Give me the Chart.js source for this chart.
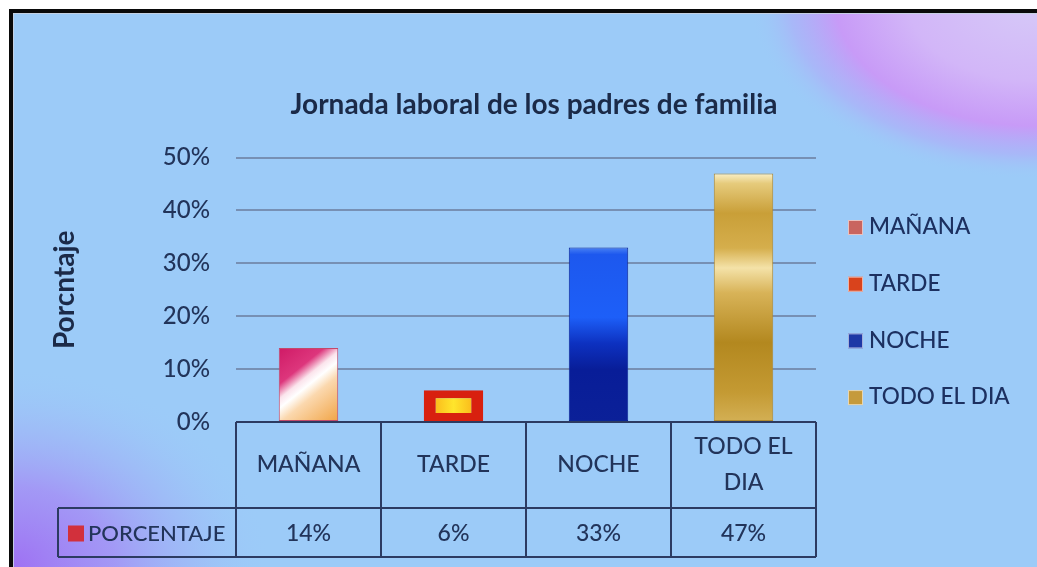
<!DOCTYPE html>
<html>
<head>
<meta charset="utf-8">
<title>Jornada laboral de los padres de familia</title>
<script src="https://cdn.jsdelivr.net/npm/chart.js@4.4.0/dist/chart.umd.min.js"></script>
<style>
  html, body { margin: 0; padding: 0; background: #fff; }
  #wrap { width: 1037px; height: 567px; }
</style>
</head>
<body>
<div id="wrap"><canvas id="chart"></canvas></div>
<script>
// data
const categories = ['MAÑANA', 'TARDE', 'NOCHE', 'TODO EL DIA'];
const axisLabels = ['MAÑANA', 'TARDE', 'NOCHE', ['TODO EL', 'DIA']];
const porcentaje = [14, 6, 33, 47];
const yTicks = [0, 10, 20, 30, 40, 50];
const seriesName = 'PORCENTAJE';

// styles
const FONT = 'Lato, "Open Sans", sans-serif';
const textColor = '#22345a';
const legendColors = ['#c9655f', '#d9431c', '#1d38a6', '#c59a3c'];
const seriesColor = '#d2303c';

function makeGradient(c, i, x0, x1, y0, y1) {
  let g;
  if (i === 0) {
    g = c.createLinearGradient(x0, y0, x1, y1);
    g.addColorStop(0, '#cf1a66');
    g.addColorStop(0.3, '#dd367c');
    g.addColorStop(0.42, '#fbe4ec');
    g.addColorStop(0.5, '#ffffff');
    g.addColorStop(0.62, '#fbd8ae');
    g.addColorStop(1, '#f1a343');
  } else if (i === 1) {
    g = c.createLinearGradient(x0, 0, x1, 0);
    g.addColorStop(0, '#f7a312');
    g.addColorStop(0.5, '#ffe52c');
    g.addColorStop(1, '#f7a312');
  } else if (i === 2) {
    g = c.createLinearGradient(0, y0, 0, y1);
    g.addColorStop(0, '#4a82f4');
    g.addColorStop(0.04, '#1d58ee');
    g.addColorStop(0.4, '#1d5ff8');
    g.addColorStop(0.55, '#0d31c0');
    g.addColorStop(0.7, '#081d98');
    g.addColorStop(1, '#0b2098');
  } else {
    g = c.createLinearGradient(0, y0, 0, y1);
    g.addColorStop(0, '#faf0c8');
    g.addColorStop(0.04, '#e6cb7c');
    g.addColorStop(0.16, '#c99f38');
    g.addColorStop(0.3, '#d5ae4c');
    g.addColorStop(0.38, '#f4e2a8');
    g.addColorStop(0.48, '#d8b358');
    g.addColorStop(0.68, '#b3881f');
    g.addColorStop(0.88, '#c49a33');
    g.addColorStop(1, '#d3b055');
  }
  return g;
}

function barFill(ctx) {
  const chart = ctx.chart;
  const i = ctx.dataIndex;
  if (!chart.chartArea || i === undefined) return legendColors[i] || '#888';
  const xs = chart.scales.x, ys = chart.scales.y;
  const cx = xs.getPixelForValue(i);
  const half = (xs.width / categories.length) * 0.41 / 2;
  const top = ys.getPixelForValue(porcentaje[i]);
  const bottom = ys.getPixelForValue(0);
  return makeGradient(chart.ctx, i, cx - half, cx + half, top, bottom);
}

// background, frame, legend and table
const decor = {
  id: 'decor',
  beforeDraw(chart) {
    const c = chart.ctx;
    const W = chart.width, H = chart.height;
    c.save();
    c.fillStyle = '#ffffff';
    c.fillRect(0, 0, W, H);
    c.fillStyle = '#9ccbf8';
    c.fillRect(11, 11, W - 11, H - 11);

    c.beginPath();
    c.rect(11, 11, W - 11, H - 11);
    c.clip();

    // purple glow top right (elliptical)
    c.save();
    c.translate(W, 0);
    c.scale(1.6, 1);
    let g = c.createRadialGradient(0, 0, 0, 0, 0, 180);
    g.addColorStop(0, 'rgba(214,202,248,1)');
    g.addColorStop(0.45, 'rgba(210,182,248,1)');
    g.addColorStop(0.7, 'rgba(202,152,247,0.95)');
    g.addColorStop(0.86, 'rgba(180,165,248,0.5)');
    g.addColorStop(1, 'rgba(156,203,248,0)');
    c.fillStyle = g;
    c.fillRect(-400, 0, 400, 200);
    c.restore();

    // purple glow bottom left (elliptical)
    c.save();
    c.translate(11, H);
    c.scale(1.3, 1);
    g = c.createRadialGradient(0, 0, 0, 0, 0, 200);
    g.addColorStop(0, 'rgba(158,112,243,1)');
    g.addColorStop(0.4, 'rgba(164,140,245,0.8)');
    g.addColorStop(0.75, 'rgba(160,175,246,0.35)');
    g.addColorStop(1, 'rgba(156,203,248,0)');
    c.fillStyle = g;
    c.fillRect(0, -220, 240, 220);
    c.restore();
    c.restore();

    // frame
    c.save();
    c.fillStyle = '#0a0a0a';
    c.fillRect(9, 9, W - 9, 4);
    c.fillRect(9, 9, 4, H - 9);
    c.fillStyle = 'rgba(200,210,225,0.9)';
    c.fillRect(13, 13, W - 13, 1);
    c.fillRect(13, 13, 1, H - 13);
    c.restore();
  },
  afterDraw(chart) {
    const c = chart.ctx;
    const xs = chart.scales.x;
    const area = chart.chartArea;
    const catW = xs.width / categories.length;
    const rowTop = area.bottom;
    const rowMid = area.bottom + 86;
    const rowBot = area.bottom + 135;
    const labelLeft = 58;

    c.save();
    // table grid
    c.strokeStyle = '#2c3b62';
    c.lineWidth = 2;
    c.beginPath();
    c.moveTo(xs.left, rowTop); c.lineTo(xs.right, rowTop);
    c.moveTo(labelLeft, rowMid); c.lineTo(xs.right, rowMid);
    c.moveTo(labelLeft, rowBot); c.lineTo(xs.right, rowBot);
    c.moveTo(labelLeft, rowMid); c.lineTo(labelLeft, rowBot);
    for (let i = 0; i <= categories.length; i++) {
      const x = Math.round(xs.getPixelForValue(i) - catW / 2);
      c.moveTo(x, rowTop); c.lineTo(x, rowBot);
    }
    c.stroke();

    // values row
    c.font = '500 23px ' + FONT;
    c.fillStyle = textColor;
    c.textAlign = 'center';
    c.textBaseline = 'middle';
    const vy = (rowMid + rowBot) / 2 + 1;
    porcentaje.forEach((v, i) => {
      c.fillText(v + '%', xs.getPixelForValue(i), vy);
    });
    c.textAlign = 'left';
    c.fillStyle = seriesColor;
    c.fillRect(labelLeft + 10, vy - 8, 16, 16);
    c.font = '500 22px ' + FONT;
    c.fillStyle = textColor;
    c.fillText(seriesName, labelLeft + 30, vy);

    // legend
    c.font = '500 22.5px ' + FONT;
    categories.forEach((name, i) => {
      const y = 227 + i * 56.7;
      c.fillStyle = legendColors[i];
      c.fillRect(848, y - 7, 15, 15);
      c.strokeStyle = 'rgba(255,255,255,0.6)';
      c.lineWidth = 1;
      c.strokeRect(848.5, y - 6.5, 14, 14);
      c.fillStyle = '#1c3060';
      c.fillText(name, 869, y);
    });
    c.restore();
  }
};

const config = {
  type: 'bar',
  data: {
    labels: axisLabels,
    datasets: [{
      label: seriesName,
      data: porcentaje,
      backgroundColor: barFill,
      borderColor: ['#c24a6a', '#d8200f', '#0b2596', '#b08a30'],
      borderWidth: (ctx) => ctx.dataIndex === 1
        ? { top: 8, left: 12, right: 12, bottom: 8 }
        : 1,
      borderSkipped: false,
      barPercentage: 0.41,
      categoryPercentage: 1
    }]
  },
  options: {
    responsive: true,
    maintainAspectRatio: false,
    animation: false,
    events: [],
    layout: { padding: { left: 40, right: 9, top: 0, bottom: 0 } },
    plugins: {
      legend: { display: false },
      tooltip: { enabled: false },
      title: {
        display: true,
        text: 'Jornada laboral de los padres de familia',
        color: '#1b2a48',
        font: { family: FONT, size: 28, weight: 'bold' },
        padding: { top: 88, bottom: 36 }
      }
    },
    scales: {
      x: {
        grid: { display: false, drawTicks: false },
        border: { display: false },
        ticks: {
          color: textColor,
          font: { family: FONT, size: 23, weight: 500, lineHeight: 1.55 },
          crossAlign: 'center',
          padding: 25,
          maxRotation: 0,
          autoSkip: false
        },
        afterFit(scale) { scale.height = 145; }
      },
      y: {
        min: yTicks[0],
        max: yTicks[yTicks.length - 1],
        afterBuildTicks(scale) { scale.ticks = yTicks.map(v => ({ value: v })); },
        grid: { color: '#7790b4', lineWidth: 2, drawTicks: false },
        border: { display: false },
        ticks: {
          color: textColor,
          font: { family: FONT, size: 24, weight: 500 },
          padding: 26,
          callback: (v) => v + '%'
        },
        title: {
          display: true,
          text: 'Porcntaje',
          color: '#1b2a48',
          font: { family: FONT, size: 28, weight: 'bold' },
          padding: { top: 8, bottom: 0 }
        },
        afterFit(scale) { scale.width = 196; }
      },
      side: {
        type: 'linear',
        position: 'right',
        grid: { display: false, drawTicks: false },
        border: { display: false },
        ticks: { display: false },
        afterFit(scale) { scale.width = 212; }
      }
    }
  },
  plugins: [decor]
};

const chart = new Chart(document.getElementById('chart'), config);
</script>
</body>
</html>
